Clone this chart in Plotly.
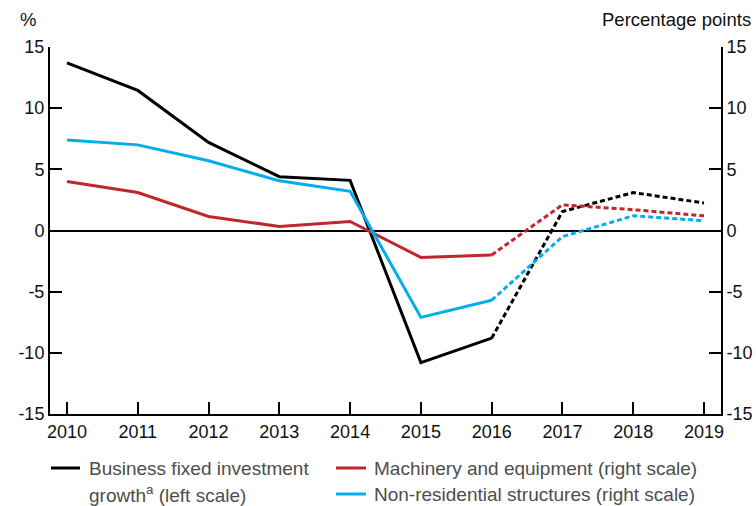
import plotly.graph_objects as go

years = [2010, 2011, 2012, 2013, 2014, 2015, 2016, 2017, 2018, 2019]
bfi_growth = [13.7, 11.45, 7.2, 4.4, 4.1, -10.8, -8.8, 1.55, 3.1, 2.25]
machinery = [4.0, 3.1, 1.15, 0.33, 0.74, -2.2, -2.0, 2.1, 1.7, 1.2]
structures = [7.4, 7.0, 5.7, 4.06, 3.2, -7.1, -5.7, -0.5, 1.2, 0.8]
y_ticks = [-15, -10, -5, 0, 5, 10, 15]
y_tick_labels = [str(v) for v in y_ticks]
split = 6  # index of 2016: actual data up to here, forecasts after (dashed)

BLACK = "#000000"
RED = "#c0272d"
BLUE = "#00aeef"
FONT = "Liberation Sans, Arial, sans-serif"
LEGEND_GREY = "#4d4d4d"

W, H = 756, 506
ML, MR, MT, MB = 50, 35, 47, 92
PW, PH = W - ML - MR, H - MT - MB


def px(x):
    return (x - ML) / PW


def py(y):
    return (H - MB - y) / PH


fig = go.Figure()

series = [
    ("Business fixed investment growth (left scale)", bfi_growth, BLACK, "y"),
    ("Machinery and equipment (right scale)", machinery, RED, "y2"),
    ("Non-residential structures (right scale)", structures, BLUE, "y2"),
]

for name, vals, col, yax in series:
    fig.add_trace(go.Scatter(
        x=years[split:], y=vals[split:], mode="lines", yaxis=yax,
        line=dict(color=col, width=3, dash="5px,3px"),
        showlegend=False, hoverinfo="skip", name=name))
for name, vals, col, yax in series:
    fig.add_trace(go.Scatter(
        x=years[:split + 1], y=vals[:split + 1], mode="lines", yaxis=yax,
        line=dict(color=col, width=3), name=name, showlegend=False))

axis_common = dict(
    range=[-15, 15], tickvals=y_ticks, ticktext=y_tick_labels, ticks="inside",
    ticklen=12, tickwidth=2, automargin=False,
    tickcolor="black", showline=True, linecolor="black", linewidth=2,
    showgrid=False, tickfont=dict(family=FONT, size=18, color="#111"),
)

# manual legend (two columns, as in the reference)
legend_rows = [
    (BLACK, 51, 80, 468, ["Business fixed investment", "growth<sup>a</sup> (left scale)"], 87),
    (RED, 336, 366, 468, ["Machinery and equipment (right scale)"], 372),
    (BLUE, 336, 366, 494, ["Non-residential structures (right scale)"], 372),
]
shapes = []
annotations = [
    dict(text="%", xref="paper", yref="paper", x=px(28), y=py(20),
         xanchor="center", yanchor="middle", showarrow=False,
         font=dict(family=FONT, size=18.5, color="#111")),
    dict(text="Percentage points", xref="paper", yref="paper", x=px(753),
         y=py(20), xanchor="right", yanchor="middle", showarrow=False,
         font=dict(family=FONT, size=18.5, color="#111")),
]
for col, x0, x1, yy, lines, tx in legend_rows:
    shapes.append(dict(type="line", xref="paper", yref="paper",
                       x0=px(x0), x1=px(x1), y0=py(yy), y1=py(yy),
                       line=dict(color=col, width=3)))
    for i, t in enumerate(lines):
        annotations.append(dict(
            text=t, xref="paper", yref="paper", x=px(tx), y=py(yy + 26 * i),
            xanchor="left", yanchor="middle", showarrow=False,
            font=dict(family=FONT, size=19, color=LEGEND_GREY)))

fig.update_layout(
    width=W, height=H,
    margin=dict(l=ML, r=MR, t=MT, b=MB),
    paper_bgcolor="white", plot_bgcolor="white",
    font=dict(family=FONT, size=18, color="#111"),
    showlegend=False,
    xaxis=dict(range=[2009.76, 2019.24], tickvals=years, ticks="inside",
               ticklen=12, tickwidth=2, tickcolor="black", showline=True,
               linecolor="black", linewidth=2, showgrid=False, zeroline=False,
               automargin=False,
               tickfont=dict(family=FONT, size=18, color="#111")),
    yaxis=dict(**axis_common, zeroline=True, zerolinecolor="black", zerolinewidth=2),
    yaxis2=dict(**axis_common, overlaying="y", side="right", zeroline=False,
                ticklabelstandoff=0),
    shapes=shapes,
    annotations=annotations,
)

fig.write_html("out.html", config={"displayModeBar": False},
               post_script="document.body.style.margin='0';document.body.style.overflow='hidden';")
